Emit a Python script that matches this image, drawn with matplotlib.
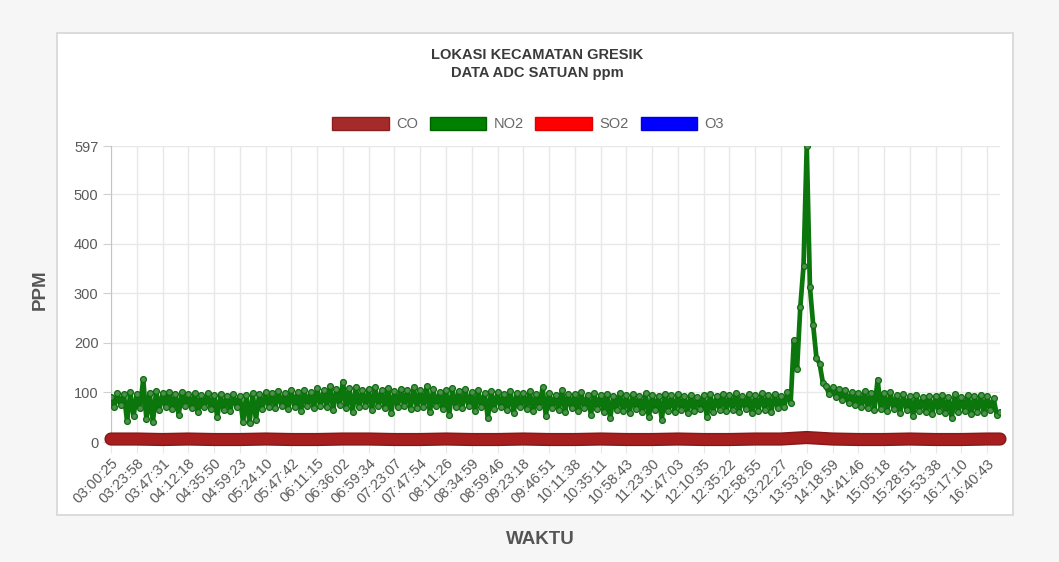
import numpy as np
import matplotlib.pyplot as plt
from matplotlib.patches import Patch, Rectangle

plt.rcParams['font.family'] = ['Liberation Sans', 'DejaVu Sans']

# tick labels (one every STEP readings)
STEP = 8
waktu = ["03:00:25", "03:23:58", "03:47:31", "04:12:18", "04:35:50", "04:59:23",
         "05:24:10", "05:47:42", "06:11:15", "06:36:02", "06:59:34", "07:23:07",
         "07:47:54", "08:11:26", "08:34:59", "08:59:46", "09:23:18", "09:46:51",
         "10:11:38", "10:35:11", "10:58:43", "11:23:30", "11:47:03", "12:10:35",
         "12:35:22", "12:58:55", "13:22:27", "13:53:26", "14:18:59", "14:41:46",
         "15:05:18", "15:28:51", "15:53:38", "16:17:10", "16:40:43"]

# NO2 readings (ppm)
no2 = [90, 70, 98, 74, 96, 42, 100, 52, 97, 68, 127, 46, 99, 40, 102, 64,
       98, 70, 101, 66, 97, 55, 100, 72, 96, 68, 99, 60, 95, 70, 98, 67,
       94, 50, 96, 64, 93, 62, 97, 70, 92, 40, 95, 38, 98, 45, 96, 66,
       100, 70, 99, 68, 103, 72, 98, 66, 104, 70, 101, 63, 105, 72, 100, 68,
       108, 72, 104, 70, 112, 65, 106, 74, 122, 68, 108, 60, 110, 70, 104, 72,
       106, 64, 110, 72, 104, 68, 108, 58, 103, 70, 107, 72, 105, 66, 110, 68,
       104, 70, 112, 60, 106, 72, 100, 66, 104, 55, 108, 70, 102, 68, 106, 72,
       100, 62, 104, 70, 98, 48, 102, 66, 100, 70, 97, 64, 103, 58, 99, 70,
       98, 66, 102, 62, 96, 70, 110, 52, 99, 68, 95, 64, 104, 60, 97, 68,
       96, 62, 100, 68, 94, 55, 98, 66, 95, 60, 97, 48, 93, 64, 99, 62,
       94, 58, 96, 66, 92, 60, 98, 50, 95, 64, 93, 45, 97, 62, 94, 60,
       96, 64, 92, 58, 95, 62, 90, 66, 94, 50, 96, 60, 93, 64, 97, 62,
       95, 64, 99, 60, 93, 66, 96, 58, 94, 62, 98, 65, 95, 60, 97, 68,
       92, 70, 100, 78, 205, 148, 272, 355, 597, 312, 236, 170, 158, 120, 112, 96,
       110, 90, 106, 85, 104, 78, 100, 74, 98, 70, 102, 68, 99, 64, 126, 66,
       98, 62, 100, 66, 94, 58, 97, 64, 92, 52, 95, 62, 90, 60, 93, 56,
       92, 62, 95, 58, 90, 48, 96, 60, 91, 62, 94, 56, 92, 60, 95, 58,
       92, 64, 88, 55, 60]

# CO, SO2, O3 read at each labelled time + last reading
co = [6, 6, 5, 6, 5, 5, 6, 5, 5, 6, 6, 5, 5, 6, 5, 5, 6, 5,
      5, 6, 5, 5, 6, 5, 5, 6, 6, 9, 6, 5, 5, 6, 5, 5, 6, 6]
so2 = [1, 1, 1, 1, 1, 1, 1, 1, 1, 1, 1, 1, 1, 1, 1, 1, 1, 1,
       1, 1, 1, 1, 1, 1, 1, 1, 1, 2, 1, 1, 1, 1, 1, 1, 1, 1]
o3 = [2, 2, 2, 2, 2, 2, 2, 2, 2, 2, 2, 2, 2, 2, 2, 2, 2, 2,
      2, 2, 2, 2, 2, 2, 2, 2, 2, 3, 2, 2, 2, 2, 2, 2, 2, 2]

x_no2 = np.arange(len(no2))
x_tick = np.arange(len(waktu)) * STEP
x_low = np.r_[x_tick, len(no2) - 1]

W, H = 1059, 562
fig = plt.figure(figsize=(W / 100, H / 100), dpi=100, facecolor='#f6f6f6')
fig.patches.append(Rectangle((57 / W, 1 - 515 / H), 956 / W, 482 / H,
                             transform=fig.transFigure, facecolor='white',
                             edgecolor='#d6d6d6', lw=1.2, zorder=-10))

ax = fig.add_axes([111 / W, 1 - 442 / H, 889 / W, 296 / H])
ax.set_facecolor('none')

ax.plot(x_low, o3, color='#0000ff', lw=1.5, zorder=2)
ax.plot(x_low, so2, color='#ff0000', lw=1.5, zorder=2)
ax.plot(x_no2, no2, color='#0b760b', lw=3.4, marker='o', ms=4.2,
        mfc='#4f8f4f', mec='#0b6e0b', mew=0.9, zorder=3)
ax.plot(x_low, co, color='#861818', lw=9.5, solid_capstyle='round',
        clip_on=False, zorder=4)
ax.plot(x_low, co, color='#a61e1e', lw=7.5, solid_capstyle='round',
        clip_on=False, zorder=5)

ax.set_xlim(0, len(no2) - 1)
ax.set_ylim(0, 597)
ax.set_yticks([0, 100, 200, 300, 400, 500, 597])
ax.set_xticks(x_tick)
ax.set_xticklabels(waktu, rotation=45, ha='right', rotation_mode='anchor')

ax.grid(True, color='#e8e8e8', lw=1)
ax.set_axisbelow(True)
for s in ['top', 'right']:
    ax.spines[s].set_visible(False)
ax.spines['left'].set_color('#c4c4c4')
ax.spines['bottom'].set_color('#c4c4c4')
ax.tick_params(axis='x', length=8, color='#e8e8e8', pad=2, labelsize=10.5,
               labelcolor='#5a5a5a')
ax.tick_params(axis='y', length=6, color='#d0d0d0', pad=3, labelsize=10.5,
               labelcolor='#5a5a5a')

fig.text(537 / W, 1 - 55 / H, 'LOKASI KECAMATAN GRESIK', ha='center',
         va='center', fontsize=10.5, fontweight='bold', color='#3a3a3a')
fig.text(537 / W, 1 - 73 / H, 'DATA ADC SATUAN ppm', ha='center',
         va='center', fontsize=10.5, fontweight='bold', color='#3a3a3a')

handles = [Patch(facecolor='#a52a2a', edgecolor='#8a1f1f'),
           Patch(facecolor='#008000', edgecolor='#006000'),
           Patch(facecolor='#ff0000', edgecolor='#dd0000'),
           Patch(facecolor='#0000ff', edgecolor='#0000dd')]
fig.legend(handles, ['CO', 'NO2', 'SO2', 'O3'], loc='center',
           bbox_to_anchor=(528 / W, 1 - 124 / H), ncol=4, frameon=False,
           fontsize=10.5, labelcolor='#666666', handlelength=3.9,
           handleheight=1.0, handletextpad=0.5, columnspacing=0.8)

fig.text(40 / W, 1 - 290 / H, 'PPM', rotation=90, ha='center', va='center',
         fontsize=13.5, fontweight='bold', color='#555555')
fig.text(540 / W, 1 - 540 / H, 'WAKTU', ha='center', va='center',
         fontsize=13.5, fontweight='bold', color='#555555')

fig.savefig('out.png', dpi=100, facecolor=fig.get_facecolor())
